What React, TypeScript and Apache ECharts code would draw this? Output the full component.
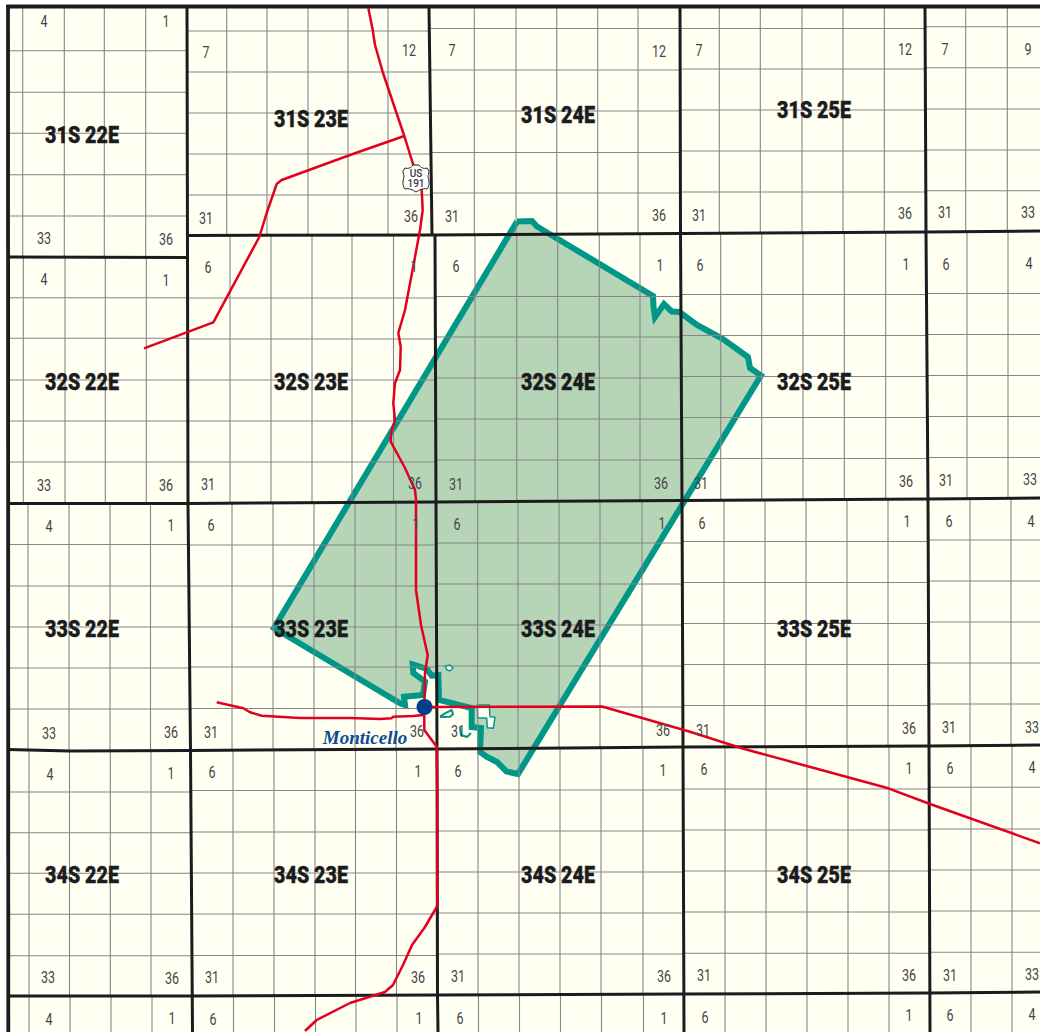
import React, { useEffect, useRef } from "react";
import * as echarts from "echarts";

type Pt = [number, number];

const frameArea: Pt[] = [[8, 6], [1040, 6], [1040, 1032], [8, 1032]];

// Section lines: [top, bottom, x positions]
const sectionVerticals: [number, number, number[]][] = [
  [8, 256, [22.7, 64.3, 104.3, 145.7]],
  [256, 503, [23.3, 65, 105.3, 146.3]],
  [503, 750, [28, 69, 110, 150.5]],
  [750, 996, [29, 69.5, 110.3, 151]],
  [996, 1032, [29, 70, 111, 152]],
  [8, 235, [226.7, 267, 308, 348, 388]],
  [235, 502, [230, 271, 312, 352, 393.5]],
  [502, 750, [232, 273, 314, 355, 396]],
  [750, 995, [233, 274, 315, 355.5, 396.5]],
  [995, 1032, [233.5, 274.5, 315.5, 356, 397]],
  [8, 234, [474.3, 516, 556.7, 597.7, 638]],
  [234, 501, [475, 516.7, 557.7, 599.3, 640]],
  [501, 748, [477.7, 518, 559, 600, 642]],
  [748, 994, [478, 519, 560, 601, 643]],
  [994, 1032, [478.5, 519.5, 560.5, 601.5, 643.5]],
  [8, 233, [719.3, 760.3, 802, 843, 884.3]],
  [233, 500, [720.7, 761.7, 803, 844.3, 885.7]],
  [500, 747, [724, 765, 806, 847, 888]],
  [747, 994, [725, 766, 807, 848, 889]],
  [994, 1032, [725, 766, 807, 848, 889]],
  [8, 232, [965.7, 1007.3]],
  [232, 499, [967, 1008]],
  [499, 746, [970, 1011]],
  [746, 993, [971, 1012]],
  [993, 1032, [971, 1012]],
];

// Section lines: [left, right, y positions]
const sectionHorizontals: [number, number, number[]][] = [
  [8, 187, [50.7, 92.3, 133.3, 174.7, 216]],
  [8, 187, [297.7, 338.3, 380, 421, 462]],
  [8, 190, [544.5, 586, 627, 668, 709]],
  [8, 192, [792, 832.7, 873.3, 914.3, 955.7]],
  [187, 430, [31, 72, 113, 154, 195]],
  [188, 435, [298, 339, 380, 421, 462]],
  [190, 437, [545, 586, 627, 667, 708.5]],
  [192, 437, [790.5, 832, 873, 914, 955.5]],
  [431, 680, [28.5, 70, 111, 152.5, 193]],
  [435, 682, [296.5, 337, 378, 419, 460]],
  [437, 683, [543, 584, 625, 666, 707]],
  [437, 684, [790, 831, 872, 913, 954]],
  [680, 925, [28.5, 69, 110, 151, 192]],
  [681, 926, [294.5, 335.5, 376.5, 417.5, 458.5]],
  [683, 929, [541.5, 582.5, 623.5, 664.5, 705.5]],
  [684, 930, [789, 830, 871, 912, 953.3]],
  [925, 1040, [26.7, 67.7, 109, 150, 190.7]],
  [926, 1040, [293.5, 334.5, 375.5, 416.5, 457.5]],
  [929, 1040, [540, 581, 622, 663, 704]],
  [930, 1040, [787.3, 829, 870, 911, 952.3]],
];

// Township boundaries
const townshipLines: Pt[][] = [
  [[187, 8], [187.5, 256], [188, 503], [190.5, 750], [192.5, 1032]],
  [[429, 8], [432, 235]],
  [[435, 235], [436, 502], [437, 749], [437.5, 995], [438, 1032]],
  [[680, 8], [680.5, 233], [682, 500], [683, 747], [684, 1032]],
  [[925, 8], [926, 232], [928, 499], [929, 746], [930, 1032]],
  [[8, 257], [187, 257.5]],
  [[187, 235.5], [432, 235], [680, 233.5], [926, 232], [1040, 231]],
  [[8, 503.5], [188, 503.5], [436, 502], [682, 500.5], [928, 499], [1040, 498]],
  [[8, 749.5], [70, 751], [190, 750.5], [437, 749], [683, 747], [929, 746], [1040, 745]],
  [[10, 996], [192, 996], [437, 995], [684, 994], [930, 993], [1040, 992]],
];
const frameLines: Pt[][] = [
  [[6.5, 6.5], [1040, 6.5]],
  [[8, 5], [8.3, 1032]],
];

// Planning area outline
const boundary: Pt[] = [
  [517, 221.5], [532, 221], [537, 226.5], [653, 296], [653.5, 306.5], [655, 317],
  [664, 304], [671.7, 311.5], [679.5, 312], [697, 325], [723, 339], [748, 357],
  [750, 368], [761, 375.5], [518, 774], [506.5, 771.5], [497, 762], [487, 757],
  [480, 752], [481, 728], [471.7, 727], [471.7, 708], [439, 700], [438.3, 675],
  [431.7, 675.7], [426.7, 669], [415, 665], [412.7, 664.3], [413.3, 673], [425, 681.7],
  [423, 695], [404, 696.7], [405, 705], [400, 703.3], [274, 628],
];
const islandSmall: Pt[] = [[445, 666], [450, 665], [453, 668], [450, 671], [447, 670]];
const islandLarge: Pt[] = [[477.3, 705], [489.3, 705], [490, 716.7], [495, 717.3], [493.3, 728.3], [487.3, 727.7], [486.7, 718.3], [477.7, 717.7]];
const parcelLeft: Pt[] = [[440, 716.7], [445, 713.3], [451.7, 710], [453, 714], [450, 716.7], [440, 717]];
const parcelCurl: Pt[] = [[460, 728], [461, 735], [467, 737], [471, 733]];

// Roads
const roadMain: Pt[] = [
  [368.3, 8], [372.7, 30], [375, 45], [383, 73], [404.3, 136], [413.3, 165], [421.7, 190],
  [422.7, 210], [420, 230], [415, 257], [405, 310], [398.3, 333], [400.7, 346.7], [400, 370],
  [395, 383], [393.3, 403], [395, 420], [391, 433], [390.7, 441.7], [405, 468], [415, 490],
  [416, 500], [416, 590], [421, 625], [427.7, 655], [425, 673], [424.3, 706.7], [424.3, 730],
  [436.7, 746.7], [437.3, 790], [437.3, 906], [425, 927], [412, 945], [403, 965], [393, 985],
  [385, 992], [350, 1003], [316.7, 1020], [305, 1031],
];
const roadBranch: Pt[] = [
  [404.3, 136], [350, 155], [281.7, 180], [276.7, 184], [266.7, 213], [259.3, 237], [213.3, 322.3], [144, 348.3],
];
const roadWest: Pt[] = [
  [216.7, 702.3], [243.3, 708.3], [250, 712.3], [261.7, 715.7], [300, 718], [350, 718], [380, 719],
  [391.7, 718.3], [393, 716.7], [413.3, 716], [423.3, 715],
];
const roadEast: Pt[] = [
  [424.3, 707], [602, 706.5], [690, 731.7], [741.7, 748.3], [806.7, 766], [888.3, 788.3], [930, 804], [1040, 843.3],
];
const monticelloPoint: Pt = [424.5, 707];

// Labels
const townshipLabels: [string, number, number][] = [
  ["31S 22E", 82, 135], ["31S 23E", 311, 119], ["31S 24E", 558, 115], ["31S 25E", 814, 110],
  ["32S 22E", 82, 382], ["32S 23E", 311, 382], ["32S 24E", 558, 382], ["32S 25E", 814, 382],
  ["33S 22E", 82, 629], ["33S 23E", 311, 629], ["33S 24E", 558, 629], ["33S 25E", 814, 629],
  ["34S 22E", 82, 875], ["34S 23E", 311, 875], ["34S 24E", 558, 875], ["34S 25E", 814, 875],
];
const sectionLabels: [string, number, number][] = [
  ["4", 44, 22], ["1", 166, 22], ["33", 44, 239], ["36", 166, 240],
  ["4", 44, 280], ["1", 166, 281], ["33", 44, 486], ["36", 166, 486],
  ["4", 49, 527], ["1", 171, 526], ["33", 49, 734], ["36", 171, 733],
  ["4", 50, 775], ["1", 171, 774], ["33", 48, 978], ["36", 172, 979],
  ["4", 49, 1020], ["1", 172, 1019],
  ["7", 206, 53], ["12", 409, 51], ["31", 206, 219], ["36", 411, 217],
  ["6", 208, 268], ["1", 414, 267], ["31", 208, 485], ["36", 415, 484],
  ["6", 211, 526], ["1", 416, 525], ["31", 211, 733], ["36", 417, 732],
  ["6", 212, 773], ["1", 418, 772], ["31", 212, 978], ["36", 418, 978],
  ["6", 213, 1020], ["1", 419, 1019],
  ["7", 452, 51], ["12", 659, 52], ["31", 452, 217], ["36", 659, 216],
  ["6", 456, 267], ["1", 660, 266], ["31", 456, 485], ["36", 661, 484],
  ["6", 457, 525], ["1", 662, 524], ["31", 458, 732], ["36", 663, 731],
  ["6", 458, 772], ["1", 663, 771], ["31", 458, 977], ["36", 664, 977],
  ["6", 460, 1019], ["1", 664, 1019],
  ["7", 699, 51], ["12", 905, 50], ["31", 699, 216], ["36", 905, 214],
  ["6", 700, 266], ["1", 906, 265], ["31", 701, 484], ["36", 906, 482],
  ["6", 702, 524], ["1", 907, 522], ["31", 703, 731], ["36", 909, 729],
  ["6", 704, 770], ["1", 909, 769], ["31", 704, 976], ["36", 909, 976],
  ["6", 705, 1018], ["1", 909, 1016],
  ["7", 945, 50], ["9", 1028, 50], ["31", 945, 213], ["33", 1028, 213],
  ["6", 946, 265], ["4", 1029, 264], ["31", 946, 481], ["33", 1030, 480],
  ["6", 949, 522], ["4", 1031, 522], ["31", 949, 728], ["33", 1032, 728],
  ["6", 950, 769], ["4", 1032, 768], ["31", 950, 976], ["33", 1032, 975],
  ["6", 950, 1016], ["4", 1032, 1015],
];
const placeLabels: [string, number, number][] = [["Monticello", 365, 737]];

const NARROW = 'Roboto, sans-serif';
const TEAL = "#009688";
const RED = "#e3001f";

echarts.graphic.registerShape(
  "usShield",
  echarts.graphic.extendPath(
    "M3 3 C6 4 9 3 11 0 L17 0 C19 3 22 4 25 3 L27 6 C27 9 26 10 26 12 C27.5 16 27.5 22 25 24 C21 23 17 25 14 27 C11 25 7 23 3 24 C0.5 22 0.5 16 2 12 C2 10 1 9 1 6 Z",
    {}
  ) as any
);

function areaSeries(points: Pt[], z: number, style: any): any {
  return {
    type: "custom",
    coordinateSystem: "cartesian2d",
    silent: true,
    clip: false,
    z,
    data: points,
    encode: { x: 0, y: 1 },
    renderItem: (p: any, api: any) =>
      p.dataIndex !== 0
        ? null
        : { type: "polygon", shape: { points: points.map((q) => api.coord(q)) }, style },
  };
}

function lineSeries(points: Pt[], z: number, color: string, width: number, join = "round"): any {
  return {
    type: "line",
    data: points,
    showSymbol: false,
    silent: true,
    clip: false,
    z,
    lineStyle: { color, width, cap: "butt", join },
  };
}

function textSeries(labels: [string, number, number][], z: number, font: any, scaleX = 1): any {
  return {
    type: "custom",
    coordinateSystem: "cartesian2d",
    silent: true,
    clip: false,
    z,
    data: labels.map((l) => [l[1], l[2], l[0]]),
    encode: { x: 0, y: 1 },
    renderItem: (p: any, api: any) => {
      const c = api.coord([api.value(0), api.value(1)]);
      return {
        type: "text",
        x: c[0],
        y: c[1],
        scaleX,
        style: { text: labels[p.dataIndex][0], align: "center", verticalAlign: "middle", ...font },
      };
    },
  };
}

const thinSegments: number[][] = [];
sectionVerticals.forEach(([t, b, xs]) => xs.forEach((x) => thinSegments.push([x, t, x, b])));
sectionHorizontals.forEach(([l, r, ys]) => ys.forEach((y) => thinSegments.push([l, y, r, y])));

export default function App() {
  const ref = useRef<HTMLDivElement>(null);
  useEffect(() => {
    document.body.style.margin = "0";
    const chart = echarts.init(ref.current!, undefined, { renderer: "svg" });
    const closed = (p: Pt[]): Pt[] => [...p, p[0]];
    chart.setOption({
      animation: false,
      backgroundColor: "#ffffff",
      grid: { left: 0, right: 0, top: 0, bottom: 0 },
      xAxis: { type: "value", min: 0, max: 1040, show: false },
      yAxis: { type: "value", min: 0, max: 1032, inverse: true, show: false },
      tooltip: { show: false },
      series: [
        areaSeries(frameArea, 1, { fill: "#fffff2" }),
        areaSeries(boundary, 2, { fill: "#b6d5b6" }),
        areaSeries(islandLarge, 3, { fill: "#fffff2", stroke: TEAL, lineWidth: 1.5 }),
        areaSeries(islandSmall, 3, { fill: "#fffff2", stroke: TEAL, lineWidth: 1.5 }),
        lineSeries(parcelLeft, 3, TEAL, 2),
        lineSeries(parcelCurl, 3, TEAL, 2),
        lineSeries(closed(boundary), 3, TEAL, 6, "miter"),
        {
          type: "custom",
          coordinateSystem: "cartesian2d",
          silent: true,
          clip: false,
          z: 4,
          data: thinSegments,
          encode: { x: [0, 2], y: [1, 3] },
          renderItem: (_: any, api: any) => {
            const a = api.coord([api.value(0), api.value(1)]);
            const b = api.coord([api.value(2), api.value(3)]);
            return {
              type: "line",
              shape: { x1: a[0], y1: a[1], x2: b[0], y2: b[1] },
              style: { stroke: "#85858a", lineWidth: 1.1 },
            };
          },
        },
        ...townshipLines.map((l) => lineSeries(l, 5, "#1b1b20", 3, "miter")),
        ...frameLines.map((l) => lineSeries(l, 5, "#1b1b20", 3.8, "miter")),
        ...[roadBranch, roadWest, roadEast, roadMain].map((l) => lineSeries(l, 6, RED, 2.5)),
        {
          type: "scatter",
          data: [monticelloPoint],
          symbolSize: 16,
          silent: true,
          z: 7,
          itemStyle: { color: "#003f8a", opacity: 1 },
        },
        textSeries(sectionLabels, 8, { fill: "#444448", fontFamily: NARROW, fontSize: 16 }, 0.78),
        textSeries(
          townshipLabels,
          8,
          { fill: "#1b1b20", fontFamily: NARROW, fontSize: 24, fontWeight: 900, stroke: "#1b1b20", lineWidth: 0.4 },
          0.82
        ),
        textSeries(placeLabels, 8, {
          fill: "#0d4a96",
          fontFamily: '"Liberation Serif", serif',
          fontSize: 19,
          fontWeight: "bold",
          fontStyle: "italic",
        }),
      ],
      graphic: {
        elements: [
          {
            type: "usShield",
            x: 402,
            y: 165,
            z: 100,
            silent: true,
            style: { fill: "#ffffff", stroke: "#222226", lineWidth: 1 },
          },
          {
            type: "text",
            x: 416,
            y: 173.5,
            z: 101,
            silent: true,
            style: { text: "US", align: "center", verticalAlign: "middle", fill: "#333338", font: '500 10px Roboto, sans-serif' },
          },
          {
            type: "text",
            x: 416,
            y: 183.5,
            z: 101,
            silent: true,
            style: { text: "191", align: "center", verticalAlign: "middle", fill: "#333338", font: '500 10px Roboto, sans-serif' },
          },
        ],
      },
    });
    return () => chart.dispose();
  }, []);
  return <div ref={ref} style={{ position: "fixed", left: 0, top: 0, width: 1040, height: 1032 }} />;
}
